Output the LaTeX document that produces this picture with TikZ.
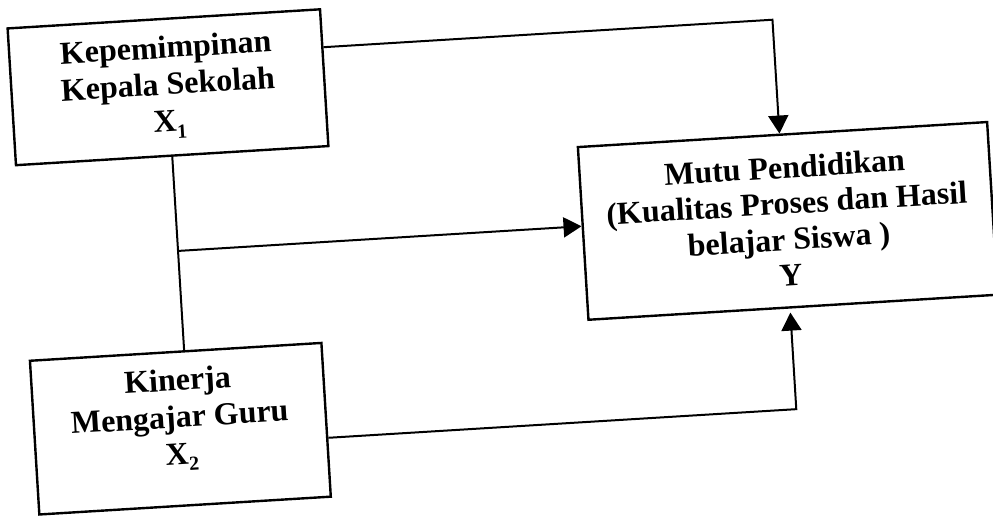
\documentclass[tikz,border=0pt]{standalone}
\usepackage{fontspec}
\setmainfont{Liberation Serif}
\usetikzlibrary{arrows.meta}
% small lowered index for the variable names
\newcommand\subidx[1]{\raisebox{-0.22em}{\fontsize{20}{20}\selectfont #1}}
\begin{document}
\begin{tikzpicture}[x=1pt,y=1pt,
  box/.style={draw, line width=2.4pt, inner sep=0pt, align=center,
              font=\fontsize{32}{37}\selectfont\bfseries},
  lbl/.style={inner sep=0pt, align=center, font=\fontsize{32}{37}\selectfont\bfseries},
  link/.style={line width=2pt},
  tip/.style={-{Triangle[length=18pt,width=20pt]}}]
\useasboundingbox (-496.5,-257.5) rectangle (496.5,257.5);
\fill[white] (-496.5,-257.5) rectangle (496.5,257.5);
\clip (-496.5,-257.5) rectangle (496.5,257.5);
\begin{scope}[rotate=3.5, transform shape]
  % variable boxes
  \node[box, minimum width=313pt, minimum height=137pt] (X1) at (-317.5,190)
    {Kepemimpinan\\Kepala Sekolah\\X\subidx{1}};
  \node[box, minimum width=292pt, minimum height=154pt] (X2) at (-326,-151.6) {};
  \node[lbl] (X2t) at ([yshift=9pt]X2.center) {Kinerja\\Mengajar Guru\\X\subidx{2}};
  \node[box, minimum width=410pt, minimum height=173pt,
        font=\fontsize{32}{36}\selectfont\bfseries] (Y) at (293,18.75)
    {Mutu Pendidikan\\(Kualitas Proses dan Hasil\\belajar Siswa )\\Y};

  % routing points
  \coordinate (c1) at (290,220.5);
  \coordinate (c2) at (290,-169.7);
  \coordinate (j) at (-317.5,26);

  % X1 -> Y
  \draw[link,tip] (X1.east |- c1) -- (c1) -- (c1 |- Y.north);
  % joint effect of X1 and X2 -> Y
  \draw[link] (X1.south) -- (X1.south |- X2.north);
  \draw[link,tip] (j) -- (j -| Y.west);
  % X2 -> Y
  \draw[link,tip,shorten >=4pt] (X2.east |- c2) -- (c2) -- (c2 |- Y.south);
\end{scope}
\end{tikzpicture}
\end{document}
